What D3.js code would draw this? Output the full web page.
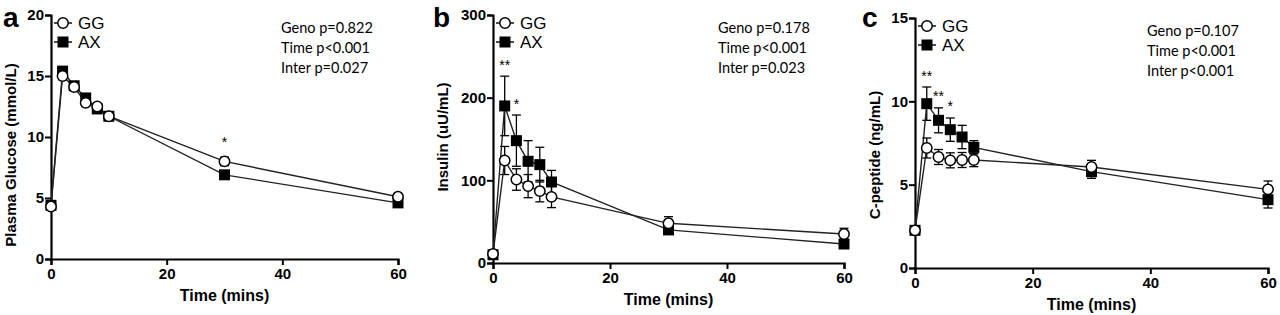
<!DOCTYPE html>
<html>
<head>
<meta charset="utf-8">
<script src="https://cdn.jsdelivr.net/npm/d3@7"></script>
<style>
  body { margin: 0; background: #fff; }
  svg { display: block; }
  .tick text { font-family: "Liberation Sans", Arial, sans-serif; font-weight: bold; font-size: 15px; }
</style>
</head>
<body>
<svg width="1280" height="315"></svg>
<script>
// time points (mins)
var times = [0, 2, 4, 6, 8, 10, 30, 60];

// a - plasma glucose
var glucoseGG = [4.3, 15.0, 14.1, 12.8, 12.5, 11.7, 8.0, 5.1];
var glucoseGGerr = [0.2, 0.3, 0.2, 0.3, 0.2, 0.2, 0.35, 0.2];
var glucoseAX = [4.4, 15.4, 14.2, 13.2, 12.3, 11.7, 6.9, 4.6];
var glucoseAXerr = [0.2, 0.3, 0.2, 0.3, 0.2, 0.2, 0.2, 0.2];
var glucoseStars = [{t: 30, v: 9.2, s: "*"}];
var glucoseStats = ["Geno p=0.822", "Time p<0.001", "Inter p=0.027"];

// b - insulin
var insulinGG = [11, 124, 101, 93, 87, 80, 48, 35];
var insulinGGerr = [3, 17, 13, 14, 13, 13, 8, 7];
var insulinAX = [10, 190, 148, 123, 119, 98, 40, 23];
var insulinAXerr = [3, 36, 31, 25, 21, 14, 3, 3];
var insulinStars = [{t: 2, v: 234, s: "**"}, {t: 4, v: 186, s: "*"}];
var insulinStats = ["Geno p=0.178", "Time p<0.001", "Inter p=0.023"];

// c - C-peptide
var cpepGG = [2.26, 7.2, 6.66, 6.46, 6.48, 6.48, 6.06, 4.72];
var cpepGGerr = [0.15, 0.6, 0.45, 0.45, 0.45, 0.4, 0.4, 0.5];
var cpepAX = [2.26, 9.86, 8.86, 8.3, 7.86, 7.24, 5.78, 4.1];
var cpepAXerr = [0.15, 1.0, 0.75, 0.7, 0.7, 0.4, 0.4, 0.5];
var cpepStars = [{t: 2, v: 11.2, s: "**"}, {t: 4, v: 10.0, s: "**"}, {t: 6, v: 9.4, s: "*"}];
var cpepStats = ["Geno p=0.107", "Time p<0.001", "Inter p<0.001"];

var panels = [
  {letter: "a", lx: 3, ox: 51, x60: 398, top: 15, bottom: 259, ymax: 20, yticks: [0, 5, 10, 15, 20],
   ytitle: "Plasma Glucose (mmol/L)", ytx: 16, yty: 155,
   gg: glucoseGG, ggErr: glucoseGGerr, ax: glucoseAX, axErr: glucoseAXerr,
   stars: glucoseStars, stats: glucoseStats, sx: 281, legX: 63},
  {letter: "b", lx: 433, ox: 493, x60: 844, top: 15, bottom: 263, ymax: 300, yticks: [0, 100, 200, 300],
   ytitle: "Insulin (uU/mL)", ytx: 448, yty: 137,
   gg: insulinGG, ggErr: insulinGGerr, ax: insulinAX, axErr: insulinAXerr,
   stars: insulinStars, stats: insulinStats, sx: 718, legX: 505},
  {letter: "c", lx: 862, ox: 915, x60: 1268, top: 18, bottom: 268, ymax: 15, yticks: [0, 5, 10, 15],
   ytitle: "C-peptide (ng/mL)", ytx: 880, yty: 155,
   gg: cpepGG, ggErr: cpepGGerr, ax: cpepAX, axErr: cpepAXerr,
   stars: cpepStars, stats: cpepStats, sx: 1147, legX: 927}
];

var svg = d3.select("svg");

panels.forEach(function (p) {
  var x = d3.scaleLinear().domain([0, 60]).range([p.ox, p.x60]);
  var y = d3.scaleLinear().domain([0, p.ymax]).range([p.bottom, p.top]);
  var g = svg.append("g");

  // axes
  var xAxis = g.append("g")
      .attr("transform", "translate(0," + p.bottom + ")")
      .call(d3.axisBottom(x).tickValues([0, 20, 40, 60]).tickSize(6).tickPadding(3));
  var yAxis = g.append("g")
      .attr("transform", "translate(" + p.ox + ",0)")
      .call(d3.axisLeft(y).tickValues(p.yticks).tickSize(6).tickPadding(1));
  [xAxis, yAxis].forEach(function (a) {
    a.select(".domain").attr("stroke", "#000").attr("stroke-width", 2.2);
    a.selectAll(".tick line").attr("stroke", "#000").attr("stroke-width", 2);
    a.selectAll(".tick text").attr("fill", "#000");
  });

  // axis titles
  g.append("text")
    .attr("x", (p.ox + p.x60) / 2).attr("y", p.bottom + 42)
    .attr("text-anchor", "middle")
    .style("font-family", "Liberation Sans, Arial, sans-serif")
    .style("font-weight", "bold").style("font-size", "16px")
    .text("Time (mins)");
  g.append("text")
    .attr("transform", "translate(" + p.ytx + "," + p.yty + ") rotate(-90)")
    .attr("text-anchor", "middle")
    .style("font-family", "Liberation Sans, Arial, sans-serif")
    .style("font-weight", "bold").style("font-size", "15px")
    .text(p.ytitle);

  // panel letter
  g.append("text")
    .attr("x", p.lx).attr("y", 27)
    .style("font-family", "Liberation Sans, Arial, sans-serif")
    .style("font-weight", "bold").style("font-size", "28px")
    .text(p.letter);

  var series = [
    {vals: p.ax, err: p.axErr, shape: "square"},
    {vals: p.gg, err: p.ggErr, shape: "circle"}
  ];
  var line = d3.line().x(function (d) { return x(d.t); }).y(function (d) { return y(d.v); });

  series.forEach(function (s) {
    var pts = times.map(function (t, i) { return {t: t, v: s.vals[i], e: s.err[i]}; });
    var eb = g.append("g").attr("stroke", "#000").attr("stroke-width", 1.3);
    pts.forEach(function (d) {
      eb.append("line").attr("x1", x(d.t)).attr("x2", x(d.t)).attr("y1", y(d.v - d.e)).attr("y2", y(d.v + d.e));
      [d.v - d.e, d.v + d.e].forEach(function (v) {
        eb.append("line").attr("x1", x(d.t) - 4.5).attr("x2", x(d.t) + 4.5).attr("y1", y(v)).attr("y2", y(v));
      });
    });
    g.append("path").datum(pts).attr("d", line)
      .attr("fill", "none").attr("stroke", "#222").attr("stroke-width", 1.4);
  });

  series.forEach(function (s) {
    var pts = times.map(function (t, i) { return {t: t, v: s.vals[i]}; });
    if (s.shape === "square") {
      g.selectAll(null).data(pts).join("rect")
        .attr("x", function (d) { return x(d.t) - 5.5; })
        .attr("y", function (d) { return y(d.v) - 5.5; })
        .attr("width", 11).attr("height", 11)
        .attr("fill", "#000");
    } else {
      g.selectAll(null).data(pts).join("circle")
        .attr("cx", function (d) { return x(d.t); })
        .attr("cy", function (d) { return y(d.v); })
        .attr("r", 5.2)
        .attr("fill", "#fff").attr("stroke", "#000").attr("stroke-width", 1.5);
    }
  });

  // significance stars
  g.selectAll(null).data(p.stars).join("text")
    .attr("x", function (d) { return x(d.t); })
    .attr("y", function (d) { return y(d.v); })
    .attr("text-anchor", "middle")
    .style("font-family", "Liberation Sans, Arial, sans-serif")
    .style("font-size", "14px")
    .text(function (d) { return d.s; });

  // legend
  var leg = g.append("g");
  leg.append("line").attr("x1", p.legX - 9).attr("x2", p.legX + 9).attr("y1", p.top + 8).attr("y2", p.top + 8).attr("stroke", "#000").attr("stroke-width", 1.4);
  leg.append("circle").attr("cx", p.legX).attr("cy", p.top + 8).attr("r", 5.2)
    .attr("fill", "#fff").attr("stroke", "#000").attr("stroke-width", 1.5);
  leg.append("line").attr("x1", p.legX - 9).attr("x2", p.legX + 9).attr("y1", p.top + 27).attr("y2", p.top + 27).attr("stroke", "#000").attr("stroke-width", 1.4);
  leg.append("rect").attr("x", p.legX - 5.5).attr("y", p.top + 21.5).attr("width", 11).attr("height", 11).attr("fill", "#000");
  [["GG", p.top + 8], ["AX", p.top + 27]].forEach(function (l) {
    leg.append("text").attr("x", p.legX + 15).attr("y", l[1] + 6)
      .style("font-family", "Liberation Sans, Arial, sans-serif")
      .style("font-size", "17px")
      .text(l[0]);
  });

  // stats text
  g.selectAll(null).data(p.stats).join("text")
    .attr("x", p.sx)
    .attr("y", function (d, i) { return p.top + 18 + i * 20; })
    .style("font-family", "Lato, sans-serif")
    .style("font-size", "14.5px")
    .text(function (d) { return d; });
});
</script>
</body>
</html>
